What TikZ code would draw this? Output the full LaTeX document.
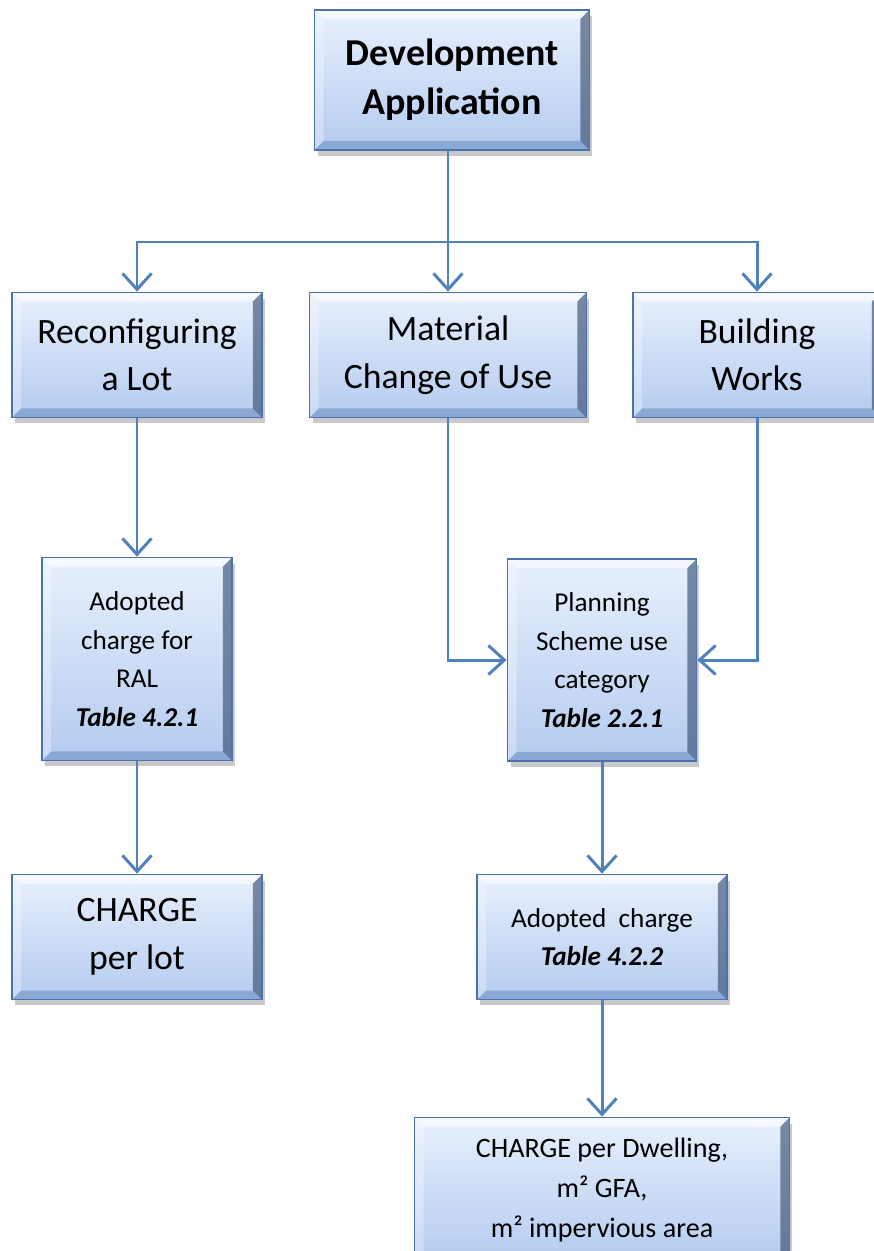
\documentclass[tikz,border=0pt]{standalone}
\usepackage{fontspec}
\setmainfont{Carlito}
\usetikzlibrary{arrows.meta,shadows}

\definecolor{boxline}{HTML}{4A72AE}
\definecolor{boxtop}{HTML}{E8F0FD}
\definecolor{boxbot}{HTML}{B4CBEF}
\definecolor{flowblue}{HTML}{4F81BD}

\newcommand{\boxbevel}{%
  \coordinate (nw) at (path picture bounding box.north west);
  \coordinate (ne) at (path picture bounding box.north east);
  \coordinate (sw) at (path picture bounding box.south west);
  \coordinate (se) at (path picture bounding box.south east);
  \fill[white, opacity=0.6] (nw) -- (ne) -- ([shift={(-0.18cm,-0.18cm)}]ne) -- ([shift={(0.18cm,-0.18cm)}]nw) -- cycle;
  \fill[white, opacity=0.3] (nw) -- (sw) -- ([shift={(0.18cm,0.18cm)}]sw) -- ([shift={(0.18cm,-0.18cm)}]nw) -- cycle;
  \fill[boxline!60!black, opacity=0.6] (ne) -- (se) -- ([shift={(-0.18cm,0.18cm)}]se) -- ([shift={(-0.18cm,-0.18cm)}]ne) -- cycle;
  \fill[boxline, opacity=0.4] (sw) -- (se) -- ([shift={(-0.18cm,0.18cm)}]se) -- ([shift={(0.18cm,0.18cm)}]sw) -- cycle;
}

\begin{document}
\begin{tikzpicture}[x=0.02cm, y=-0.02cm,
    box/.style={rectangle, draw=boxline, line width=1pt, inner sep=0pt, align=center,
      top color=boxtop, bottom color=boxbot, path picture={\boxbevel},
      drop shadow={shadow xshift=0.06cm, shadow yshift=-0.12cm, opacity=0.3, fill=black!70}},
    big/.style={font=\fontsize{20.3}{27}\selectfont},
    small/.style={font=\fontsize{15.5}{22}\selectfont},
    link/.style={draw=flowblue, line width=1.7pt, -{Straight Barb[length=0.32cm, width=0.58cm]}}]
      \useasboundingbox (0,0) rectangle (873,1251);

      % Nodes
      \node[box, font=\bfseries\fontsize{21.6}{28}\selectfont, minimum width=5.5cm, minimum height=2.8cm] (devapp) at (452,80) {Development\\Application};
      \node[box, big, minimum width=5cm, minimum height=2.5cm] (reconf) at (137,355) {Reconfiguring\\a Lot};
      \node[box, big, minimum width=5.54cm, minimum height=2.5cm] (mcu) at (448,355) {Material\\Change of Use};
      \node[box, big, minimum width=4.96cm, minimum height=2.5cm] (works) at (757,355) {Building\\Works};
      \node[box, small, minimum width=3.8cm, minimum height=4.06cm] (ral) at (137,659) {Adopted\\charge for\\RAL\\\textbf{\textit{Table 4.2.1}}};
      \node[box, small, minimum width=3.78cm, minimum height=4.04cm] (usecat) at (602,660) {Planning\\Scheme use\\category\\\textbf{\textit{Table 2.2.1}}};
      \node[box, big, minimum width=5cm, minimum height=2.5cm] (perlot) at (137,937) {CHARGE\\per lot};
      \node[box, small, minimum width=5cm, minimum height=2.5cm] (adopted) at (602,937) {Adopted~ charge\\\textbf{\textit{Table 4.2.2}}};
      \node[box, font=\fontsize{16}{22.5}\selectfont, minimum width=7.5cm, minimum height=2.9cm] (dwelling) at (602,1190) {CHARGE per Dwelling,\\m² GFA,\\m² impervious area};
      \coordinate (bus) at (448,242);

      % Arrows
      \draw[link] (devapp.south -| bus) -- (mcu.north);
      \draw[link] (bus) -| (reconf.north);
      \draw[link] (bus) -| (works.north);
      \draw[link] (reconf.south) -- (ral.north);
      \draw[link] (ral.south) -- (perlot.north);
      \draw[link] (mcu.south) |- (usecat.west);
      \draw[link] (works.south) |- (usecat.east);
      \draw[link] (usecat.south) -- (adopted.north);
      \draw[link] (adopted.south) -- (dwelling.north);
    \end{tikzpicture}
\end{document}
